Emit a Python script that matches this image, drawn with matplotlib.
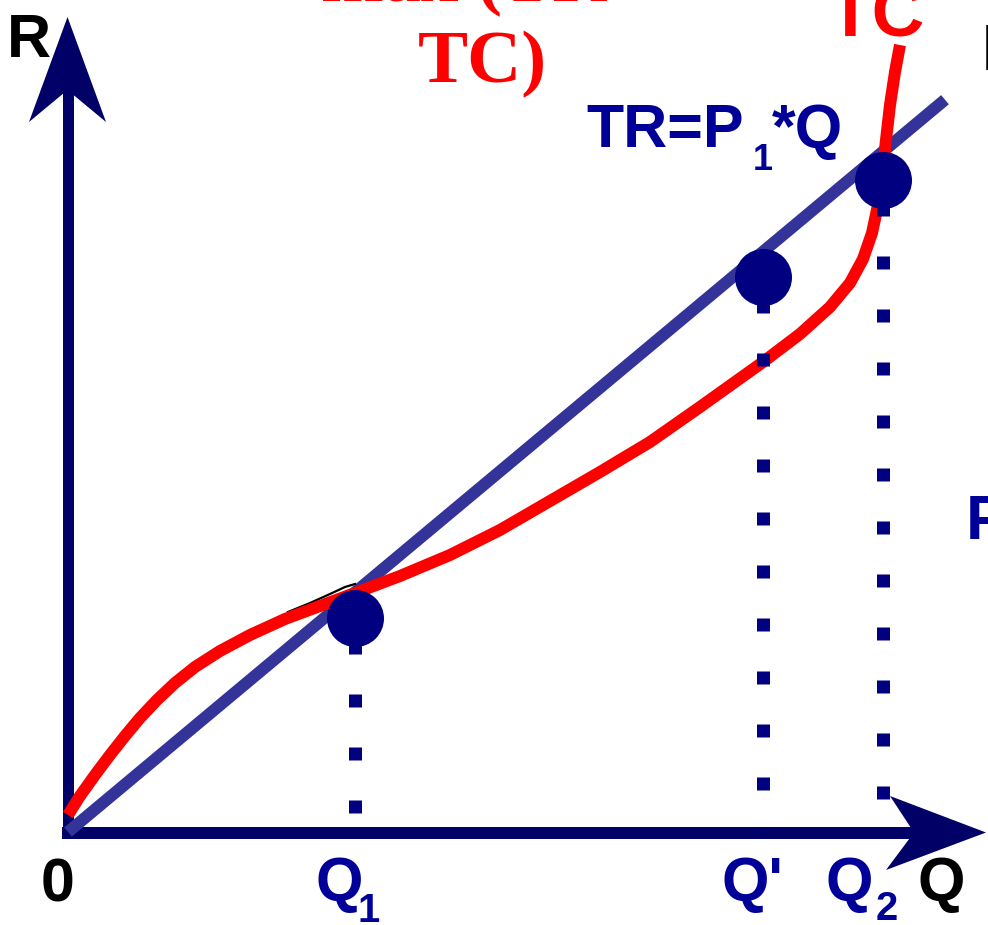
import matplotlib
matplotlib.use("Agg")
import numpy as np
from matplotlib import pyplot as plt
from matplotlib.patches import Polygon

plt.rcParams['lines.scale_dashes'] = False

# Quantity / revenue data (origin at the corner of the axes)
price_p1 = 0.835
tr_q = np.array([0, 877])

tc_q = [0, 12, 27, 42, 57, 72, 89, 107, 127, 152, 182, 217, 252, 287,
        332, 382, 432, 482, 532, 582, 632, 667, 695, 732, 762, 782, 795,
        804, 810, 814, 818, 822, 827, 832]
tc_r = [17, 36, 57, 77, 96, 114, 132, 149, 165, 181, 197, 213, 226, 239,
        256, 277, 302, 331, 360, 390, 425, 450, 470, 498, 525, 549, 573,
        599, 627, 654, 692, 727, 760, 787]

# thin dark edge left over the curve just before Q1
edge_q = [220, 242, 262, 277, 287]
edge_r = [220, 229, 238, 245, 248]

point_labels = ['Q1', "Q'", 'Q2']
point_q = [287, 695, 815]
point_r = [214, 555, 652]

NAVY = '#000066'
DOT = '#000080'
TXT = '#000099'
TR_BLUE = '#333399'
RED = '#ff0000'


def px(v):
    """pixels -> points"""
    return v * 0.72


fig = plt.figure(figsize=(9.88, 9.25), dpi=100)
ax = fig.add_axes([0, 0, 1, 1])
ax.set_xlim(-68, 920)
ax.set_ylim(-93, 832)
ax.axis('off')

# axes with arrow heads
ax.plot([-0.5, -0.5], [-6, 745], color=NAVY, lw=px(11), solid_capstyle='butt', zorder=1)
ax.add_patch(Polygon([[-0.5, 815], [-39, 710], [-0.5, 742], [38, 710]],
                     closed=True, color=NAVY, lw=0, zorder=1))
ax.plot([-6, 848], [-0.5, -0.5], color=NAVY, lw=px(12), solid_capstyle='butt', zorder=1)
ax.add_patch(Polygon([[918, -0.5], [822, 36], [846, -0.5], [818, -38]],
                     closed=True, color=NAVY, lw=0, zorder=1))

# total revenue and total cost
ax.plot(tr_q, price_p1 * tr_q, color=TR_BLUE, lw=px(12), solid_capstyle='butt', zorder=2)
ax.plot(tc_q, tc_r, color=RED, lw=px(12), solid_capstyle='butt',
        solid_joinstyle='round', zorder=3)
ax.plot(edge_q, edge_r, color='black', lw=1.6, zorder=2.5)

# drop lines and points
for q, r in zip(point_q, point_r):
    ax.plot([q, q], [r, 0], color=DOT, lw=px(13),
            linestyle=(px(30), (px(13), px(40))), dash_capstyle='butt', zorder=4)
ax.scatter(point_q, point_r, s=px(57) ** 2, color=DOT, lw=0, zorder=5)

# labels
sans = dict(family='Liberation Sans', fontweight='bold', ha='left', va='baseline')
serif = dict(family='Liberation Serif', fontweight='bold', ha='left', va='baseline')
ax.text(-61, 775, 'R', fontsize=px(61), color='black', **sans)
ax.text(-27, -70, '0', fontsize=px(61), color='black', **sans)
ax.text(849, -68, 'Q', fontsize=px(61), color='black', **sans)

ax.text(247, -68, 'Q', fontsize=px(61), color=TXT, **sans)
ax.text(289, -90, '1', fontsize=px(40), color=TXT, **sans)
ax.text(653, -68, "Q'", fontsize=px(61), color=TXT, **sans)
ax.text(757, -68, 'Q', fontsize=px(61), color=TXT, **sans)
ax.text(808, -88, '2', fontsize=px(40), color=TXT, **sans)

ax.text(518, 685, 'TR=P', fontsize=px(61), color=TXT, **sans)
ax.text(685, 662, '1', fontsize=px(36), color=TXT, **sans)
ax.text(704, 685, '*Q', fontsize=px(61), color=TXT, **sans)

ax.text(253, 831, 'max (TR-', fontsize=px(75), color=RED, **serif)
ax.text(350, 750, 'TC)', fontsize=px(75), color=RED, **serif)
ax.text(759, 797, 'TC', fontsize=px(73), color=RED, **sans)

ax.text(914, 762, 'P', fontsize=px(64), color='black', **sans)
ax.text(898, 293, 'P', fontsize=px(63), color=TXT, **sans)

fig.savefig('out.png', dpi=100)
